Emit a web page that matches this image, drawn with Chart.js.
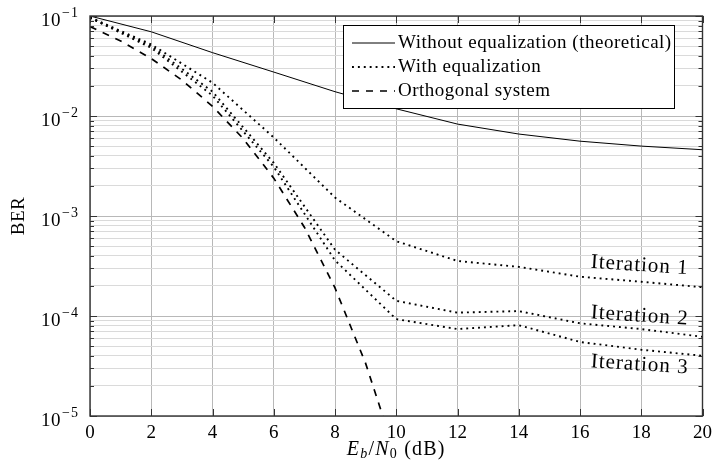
<!DOCTYPE html>
<html>
<head>
<meta charset="utf-8">
<script src="https://cdn.jsdelivr.net/npm/chart.js@4.4.1/dist/chart.umd.min.js"></script>
<style>
  html, body { margin: 0; padding: 0; background: #fff; }
  #wrap { width: 718px; height: 470px; }
</style>
</head>
<body>
<div id="wrap"><canvas id="berChart" width="718" height="470"></canvas></div>
<script>
// Eb/N0 grid (dB) and BER curves
const snr = [0, 2, 4, 6, 8, 10, 12, 14, 16, 18, 20];
const berTheory = [0.1, 0.0695, 0.043, 0.0275, 0.0175, 0.0118, 0.0083, 0.0066, 0.0056, 0.0050, 0.0046];
const berIter1 = [0.097, 0.052, 0.0215, 0.0061, 0.00153, 0.00056, 0.000355, 0.00031, 0.000247, 0.00022, 0.000194];
const berIter2 = [0.096, 0.050, 0.0175, 0.0034, 0.00046, 0.000142, 0.000108, 0.000112, 0.0000845, 0.000074, 0.000062];
const berIter3 = [0.096, 0.048, 0.016, 0.0031, 0.00036, 0.000093, 0.000074, 0.000081, 0.000055, 0.000046, 0.00004];

const snrOrtho = [0, 1, 2, 3, 4, 5, 6, 7, 8, 9, 10];
const berOrtho = [0.0786, 0.0563, 0.0375, 0.0229, 0.0125, 0.00595, 0.00239, 0.000773, 0.000191, 0.0000336, 0.00000387];

const legendLabels = ['Without equalization (theoretical)', 'With equalization', 'Orthogonal system'];
const iterLabels = ['Iteration 1', 'Iteration 2', 'Iteration 3'];
const iterLabelX = [17.95, 17.95, 17.95];
const iterLabelY = [3.2e-4, 1.0e-4, 3.25e-5];
const yDecades = [-1, -2, -3, -4, -5];

const serif = '"Liberation Serif", "DejaVu Serif", serif';

const toPoints = (xs, ys) => xs.map((x, i) => ({x: x, y: ys[i]}));
const isDecade = (v) => Math.abs(Math.log10(v) - Math.round(Math.log10(v))) < 1e-9;

const dotted = {borderColor: '#000', borderWidth: 1.9, borderDash: [1.9, 4.0], borderCapStyle: 'butt',
  pointRadius: 0, tension: 0, fill: false};

const datasets = [
  {label: legendLabels[0], data: toPoints(snr, berTheory), borderColor: '#000', borderWidth: 1,
    pointRadius: 0, tension: 0, fill: false},
  Object.assign({label: legendLabels[1], data: toPoints(snr, berIter1)}, dotted),
  Object.assign({label: legendLabels[1] + ' 2', data: toPoints(snr, berIter2)}, dotted),
  Object.assign({label: legendLabels[1] + ' 3', data: toPoints(snr, berIter3)}, dotted),
  {label: legendLabels[2], data: toPoints(snrOrtho, berOrtho), borderColor: '#000', borderWidth: 1.7,
    borderDash: [7, 7], pointRadius: 0, tension: 0, fill: false}
];
const legendSets = [0, 1, 4];

const decorations = {
  id: 'decorations',
  afterDraw(chart) {
    const ctx = chart.ctx;
    const area = chart.chartArea;
    const xs = chart.scales.x;
    const ys = chart.scales.y;
    ctx.save();

    // inner tick marks
    ctx.strokeStyle = '#333';
    ctx.lineWidth = 1;
    ctx.setLineDash([]);
    ctx.beginPath();
    xs.ticks.forEach(t => {
      const px = Math.round(xs.getPixelForValue(t.value)) + 0.5;
      ctx.moveTo(px, area.bottom); ctx.lineTo(px, area.bottom - 7);
      ctx.moveTo(px, area.top); ctx.lineTo(px, area.top + 7);
    });
    ys.ticks.forEach(t => {
      const py = Math.round(ys.getPixelForValue(t.value)) + 0.5;
      const len = isDecade(t.value) ? 7 : 4;
      ctx.moveTo(area.left, py); ctx.lineTo(area.left + len, py);
      ctx.moveTo(area.right, py); ctx.lineTo(area.right - len, py);
    });
    ctx.stroke();

    // frame
    ctx.strokeStyle = '#333';
    ctx.lineWidth = 1.4;
    ctx.strokeRect(area.left, area.top, area.right - area.left, area.bottom - area.top);

    // y tick labels 10^n
    ctx.fillStyle = '#000';
    ctx.textBaseline = 'alphabetic';
    yDecades.forEach(d => {
      const py = ys.getPixelForValue(Math.pow(10, d));
      const sup = '\u2212' + Math.abs(d);
      ctx.letterSpacing = '1px';
      ctx.font = '14px ' + serif;
      ctx.textAlign = 'right';
      ctx.fillText(sup, 79, py + 1);
      const w = ctx.measureText(sup).width;
      ctx.letterSpacing = '0.5px';
      ctx.font = '19px ' + serif;
      ctx.fillText('10', 79 - w - 1, py + 9.5);
    });

    // axis titles
    ctx.letterSpacing = '0.5px';
    ctx.font = '19px ' + serif;
    ctx.textAlign = 'center';
    ctx.textBaseline = 'middle';
    ctx.save();
    ctx.translate(19, (area.top + area.bottom) / 2);
    ctx.rotate(-Math.PI / 2);
    ctx.fillText('BER', 0, 0);
    ctx.restore();

    const parts = [
      {t: 'E', f: 'italic 20px ', dy: 0},
      {t: 'b', f: 'italic 14px ', dy: 3},
      {t: '/', f: '20px ', dy: 0},
      {t: 'N', f: 'italic 20px ', dy: 0},
      {t: '0', f: '14px ', dy: 3},
      {t: ' (dB)', f: '20px ', dy: 0}
    ];
    ctx.letterSpacing = '1.2px';
    ctx.textAlign = 'left';
    ctx.textBaseline = 'alphabetic';
    let total = 0;
    parts.forEach(p => { ctx.font = p.f + serif; p.w = ctx.measureText(p.t).width; total += p.w; });
    let cx = (area.left + area.right) / 2 - total / 2;
    parts.forEach(p => { ctx.font = p.f + serif; ctx.fillText(p.t, cx, 455 + p.dy); cx += p.w; });

    // legend box
    const lx = 343.5, ly = 25.5, lw = 331, lh = 83;
    ctx.fillStyle = '#fff';
    ctx.fillRect(lx, ly, lw, lh);
    ctx.strokeStyle = '#000';
    ctx.lineWidth = 1;
    ctx.strokeRect(lx, ly, lw, lh);
    legendSets.forEach((di, i) => {
      const ds = chart.data.datasets[di];
      const ry = 43 + i * 24;
      ctx.save();
      ctx.strokeStyle = ds.borderColor;
      ctx.lineWidth = ds.borderWidth;
      ctx.setLineDash(ds.borderDash || []);
      ctx.lineCap = ds.borderCapStyle || 'butt';
      ctx.beginPath();
      ctx.moveTo(352, ry);
      ctx.lineTo(395, ry);
      ctx.stroke();
      ctx.restore();
      ctx.fillStyle = '#000';
      ctx.letterSpacing = '0.5px';
      ctx.font = '19px ' + serif;
      ctx.textAlign = 'left';
      ctx.textBaseline = 'middle';
      ctx.fillText(legendLabels[i], 398, ry);
    });

    // iteration labels
    ctx.letterSpacing = '1px';
    ctx.font = '21px ' + serif;
    ctx.textAlign = 'center';
    ctx.textBaseline = 'middle';
    iterLabels.forEach((txt, i) => {
      ctx.save();
      ctx.translate(xs.getPixelForValue(iterLabelX[i]), ys.getPixelForValue(iterLabelY[i]));
      ctx.rotate(0.065);
      ctx.fillText(txt, 0, 0);
      ctx.restore();
    });

    ctx.letterSpacing = '0px';
    ctx.restore();
  }
};

new Chart(document.getElementById('berChart'), {
  type: 'line',
  data: {datasets: datasets},
  options: {
    responsive: false,
    devicePixelRatio: 1,
    animation: false,
    layout: {padding: {top: 16, right: 13, left: 0, bottom: 0}},
    plugins: {legend: {display: false}, tooltip: {enabled: false}},
    scales: {
      x: {
        type: 'linear', min: 0, max: 20,
        ticks: {stepSize: 2, color: '#000', padding: 6, font: {family: serif, size: 19}},
        grid: {color: '#b8b8b8', drawTicks: false},
        border: {display: false},
        afterFit: s => { s.height = 54; }
      },
      y: {
        type: 'logarithmic', min: 1e-5, max: 1e-1,
        afterBuildTicks: s => {
          const t = [];
          for (let e = -5; e <= -1; e++) {
            for (let m = 1; m <= 9; m++) {
              const v = m * Math.pow(10, e);
              if (v <= 0.1000001) t.push({value: v});
            }
          }
          s.ticks = t;
        },
        ticks: {display: false},
        grid: {color: c => isDecade(c.tick.value) ? '#b8b8b8' : '#dadada', drawTicks: false},
        border: {display: false},
        afterFit: s => { s.width = 90; }
      }
    }
  },
  plugins: [decorations]
});
</script>
</body>
</html>
